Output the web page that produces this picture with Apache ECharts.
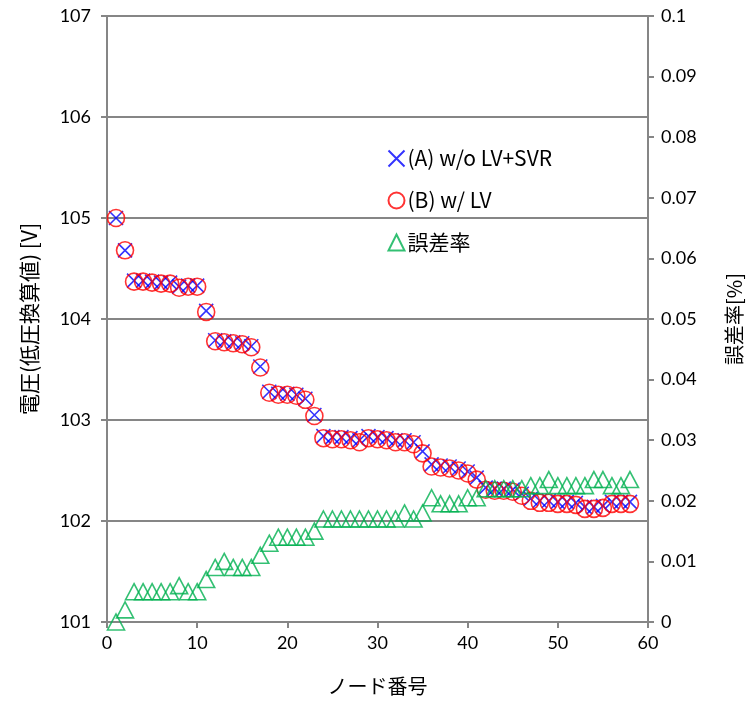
<!DOCTYPE html>
<html>
<head>
<meta charset="utf-8">
<script src="https://cdn.jsdelivr.net/npm/echarts@6/dist/echarts.min.js"></script>
<style>
  html, body { margin: 0; padding: 0; background: #fff; }
  #chart { width: 752px; height: 707px; }
</style>
</head>
<body>
<div id="chart"></div>
<script>
// node numbers 1..58
const nodes = [
  1, 2, 3, 4, 5, 6, 7, 8, 9, 10, 11, 12, 13, 14, 15, 16, 17, 18, 19, 20,
  21, 22, 23, 24, 25, 26, 27, 28, 29, 30, 31, 32, 33, 34, 35, 36, 37, 38, 39, 40,
  41, 42, 43, 44, 45, 46, 47, 48, 49, 50, 51, 52, 53, 54, 55, 56, 57, 58
];

// (A) w/o LV+SVR [V]
const voltA = [
  105.00, 104.68, 104.38, 104.38, 104.37, 104.36, 104.36, 104.32, 104.33, 104.33,
  104.08, 103.79, 103.78, 103.77, 103.76, 103.73, 103.53, 103.28, 103.26, 103.26,
  103.25, 103.21, 103.05, 102.84, 102.83, 102.83, 102.82, 102.80, 102.84, 102.83,
  102.82, 102.80, 102.80, 102.78, 102.69, 102.56, 102.55, 102.54, 102.52, 102.49,
  102.43, 102.33, 102.32, 102.32, 102.31, 102.27, 102.22, 102.20, 102.20, 102.19,
  102.19, 102.18, 102.14, 102.14, 102.15, 102.19, 102.19, 102.19
];

// (B) w/ LV [V]
const voltB = [
  105.00, 104.68, 104.37, 104.37, 104.36, 104.35, 104.35, 104.31, 104.32, 104.32,
  104.07, 103.78, 103.77, 103.76, 103.75, 103.72, 103.52, 103.27, 103.25, 103.25,
  103.24, 103.20, 103.04, 102.82, 102.81, 102.81, 102.80, 102.78, 102.82, 102.81,
  102.80, 102.78, 102.78, 102.76, 102.67, 102.54, 102.53, 102.52, 102.50, 102.47,
  102.41, 102.31, 102.30, 102.30, 102.29, 102.25, 102.20, 102.18, 102.18, 102.17,
  102.17, 102.16, 102.12, 102.12, 102.13, 102.17, 102.17, 102.17
];

// 誤差率 [%]
const errRate = [
  0.000, 0.002, 0.005, 0.005, 0.005, 0.005, 0.005, 0.006, 0.005, 0.005,
  0.007, 0.009, 0.010, 0.009, 0.009, 0.009, 0.011, 0.013, 0.014, 0.014,
  0.014, 0.014, 0.015, 0.017, 0.017, 0.017, 0.017, 0.017, 0.017, 0.017,
  0.017, 0.017, 0.018, 0.017, 0.018, 0.0205, 0.0195, 0.0195, 0.0195, 0.0205,
  0.0205, 0.022, 0.022, 0.022, 0.022, 0.022, 0.0225, 0.0225, 0.0235, 0.0225,
  0.0225, 0.0225, 0.0225, 0.0235, 0.0235, 0.0225, 0.0225, 0.0235
];

const pairs = (ys) => nodes.map((n, i) => [n, ys[i]]);

const FONT = "Lato, 'Noto Sans CJK JP', sans-serif";
const JP = "'Noto Sans CJK JP', sans-serif";
const AXIS_GRAY = "#868686";
const crossPath = "path://M0,0 L10,10 M10,0 L0,10";

const chart = echarts.init(document.getElementById("chart"));
chart.setOption({
  animation: false,
  backgroundColor: "#fff",
  grid: { left: 107, right: 100, top: 16, bottom: 85 },
  legend: {
    orient: "vertical",
    left: 381,
    top: 143,
    itemGap: 21,
    itemWidth: 16,
    itemHeight: 16,
    textStyle: { fontFamily: JP, fontSize: 21, color: "#000", padding: [0, 0, 0, -2] },
    data: ["(A) w/o LV+SVR", "(B) w/ LV", "誤差率"]
  },
  xAxis: {
    type: "value",
    min: 0,
    max: 60,
    interval: 10,
    name: "ノード番号",
    nameLocation: "middle",
    nameGap: 54,
    nameTextStyle: { fontFamily: JP, fontSize: 20, color: "#000" },
    axisLine: { show: true, lineStyle: { color: AXIS_GRAY, width: 2 } },
    axisTick: { show: true, length: 6, lineStyle: { color: AXIS_GRAY, width: 2 } },
    axisLabel: { fontFamily: FONT, fontSize: 18, color: "#000", margin: 12 },
    splitLine: { show: false }
  },
  yAxis: [
    {
      type: "value",
      min: 101,
      max: 107,
      interval: 1,
      name: "電圧(低圧換算値) [V]",
      nameLocation: "middle",
      nameRotate: 90,
      nameGap: 67,
      nameTextStyle: { fontFamily: JP, fontSize: 21, color: "#000" },
      axisLine: { show: true, lineStyle: { color: AXIS_GRAY, width: 2 } },
      axisTick: { show: true, length: 6, lineStyle: { color: AXIS_GRAY, width: 2 } },
      axisLabel: { fontFamily: FONT, fontSize: 18, color: "#000", margin: 16 },
      splitLine: { show: true, lineStyle: { color: AXIS_GRAY, width: 2 } }
    },
    {
      type: "value",
      min: 0,
      max: 0.1,
      interval: 0.01,
      position: "right",
      name: "誤差率[%]",
      nameLocation: "middle",
      nameRotate: 90,
      nameGap: 76,
      nameTextStyle: { fontFamily: JP, fontSize: 20, color: "#000" },
      axisLine: { show: true, lineStyle: { color: AXIS_GRAY, width: 2 } },
      axisTick: { show: true, length: 6, lineStyle: { color: AXIS_GRAY, width: 2 } },
      axisLabel: {
        fontFamily: FONT, fontSize: 18, color: "#000", margin: 13,
        formatter: (v) => String(Math.round(v * 100) / 100)
      },
      splitLine: { show: false }
    }
  ],
  series: [
    {
      name: "(A) w/o LV+SVR",
      type: "scatter",
      yAxisIndex: 0,
      symbol: crossPath,
      symbolSize: 14,
      itemStyle: { color: "none", borderColor: "#0000ff", borderWidth: 1.6 },
      data: pairs(voltA),
      z: 2
    },
    {
      name: "(B) w/ LV",
      type: "scatter",
      yAxisIndex: 0,
      symbol: "circle",
      symbolSize: 17,
      itemStyle: { color: "rgba(0,0,0,0)", borderColor: "#ff0000", borderWidth: 1.6 },
      data: pairs(voltB),
      z: 3
    },
    {
      name: "誤差率",
      type: "scatter",
      yAxisIndex: 1,
      symbol: "triangle",
      symbolSize: [17, 16],
      itemStyle: { color: "rgba(0,0,0,0)", borderColor: "#00b050", borderWidth: 1.6 },
      data: pairs(errRate),
      z: 4
    }
  ]
});
</script>
</body>
</html>
